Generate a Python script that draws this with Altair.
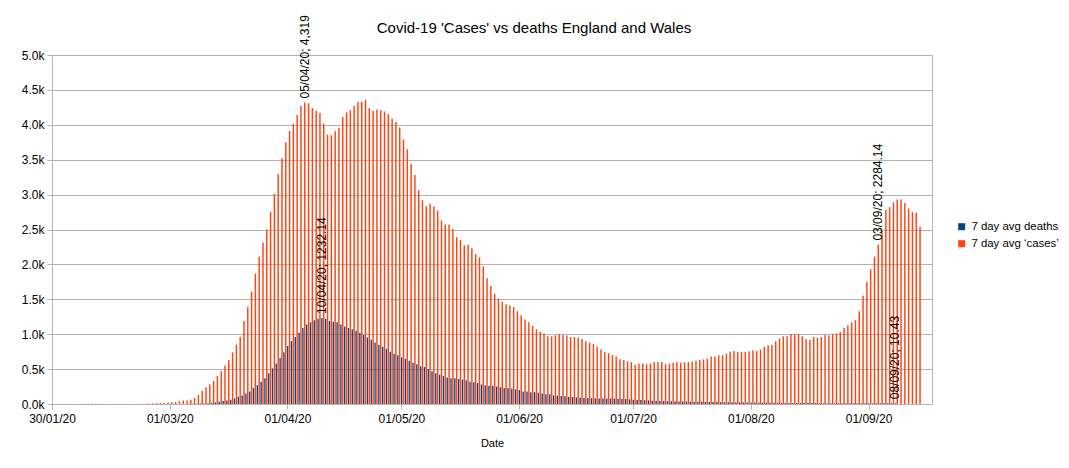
import altair as alt
import pandas as pd

# ---------------- data ----------------
start_date = "2020-01-30"

# 7 day avg 'cases', one value per day starting 30/01/20
cases = [
    0, 0, 1, 1, 1, 1, 1, 1, 1, 2, 2, 2, 1, 1, 1, 1, 1, 1, 1, 1,
    1, 1, 2, 3, 5, 7, 9, 12, 15, 15, 20, 25, 30, 40, 50, 50, 60, 90, 130, 190,
    240, 280, 330, 400, 470, 550, 630, 740, 850, 960, 1190, 1390, 1610, 1870, 2110, 2310, 2500, 2750, 3010, 3300,
    3520, 3750, 3910, 4010, 4140, 4270, 4319, 4310, 4240, 4200, 4170, 4020, 3860, 3850, 3910, 3960, 4110, 4180, 4210, 4270,
    4330, 4330, 4360, 4240, 4200, 4220, 4210, 4190, 4150, 4090, 4040, 3960, 3790, 3650, 3440, 3280, 3060, 2920, 2830, 2870,
    2830, 2770, 2630, 2570, 2570, 2510, 2390, 2350, 2270, 2280, 2230, 2150, 2100, 1970, 1800, 1690, 1580, 1510, 1460, 1430,
    1410, 1390, 1330, 1270, 1210, 1170, 1120, 1070, 1030, 1010, 970, 970, 985, 1000, 990, 980, 960, 960, 950, 930,
    900, 880, 860, 820, 780, 740, 730, 700, 680, 640, 630, 610, 600, 560, 580, 580, 570, 580, 600, 600,
    600, 570, 580, 590, 600, 590, 600, 600, 610, 620, 630, 640, 650, 680, 680, 700, 700, 720, 750, 760,
    750, 745, 745, 755, 770, 760, 780, 820, 840, 850, 900, 940, 970, 970, 1000, 1000, 1000, 970, 930, 920,
    960, 950, 960, 990, 980, 1000, 1010, 1030, 1090, 1130, 1170, 1200, 1330, 1550, 1750, 1930, 2110, 2284.14, 2480, 2780,
    2820, 2890, 2930, 2930, 2880, 2800, 2750, 2740, 2540,
]

# 7 day avg deaths, one value per day starting 30/01/20
deaths = [
    0, 0, 0, 0, 0, 0, 0, 0, 0, 0, 0, 0, 0, 0, 0, 0, 0, 0, 0, 0,
    0, 0, 0, 0, 0, 0, 0, 0, 0, 0, 0, 0, 0, 0, 0, 1, 2, 3, 4, 6,
    8, 10, 15, 24, 33, 43, 50, 60, 80, 105, 120, 150, 180, 230, 270, 320, 370, 440, 510, 580,
    660, 740, 830, 900, 960, 1020, 1090, 1140, 1170, 1200, 1220, 1232.14, 1220, 1190, 1180, 1170, 1140, 1110, 1090, 1070,
    1050, 1020, 990, 955, 920, 880, 850, 820, 790, 750, 720, 700, 670, 650, 620, 590, 570, 540, 530, 500,
    470, 440, 420, 400, 380, 370, 370, 360, 350, 340, 320, 310, 300, 280, 270, 260, 260, 250, 240, 230,
    230, 220, 210, 200, 180, 180, 170, 170, 160, 150, 140, 140, 125, 120, 115, 110, 105, 100, 96, 91,
    87, 87, 82, 80, 80, 80, 80, 80, 77, 76, 72, 71, 67, 62, 58, 57, 53, 52, 48, 47,
    43, 42, 40, 39, 38, 37, 36, 35, 34, 33, 32, 31, 30, 29, 28, 27, 26, 25, 25, 24,
    23, 22, 22, 21, 20, 20, 19, 19, 18, 18, 17, 17, 16, 16, 15, 15, 14, 14, 14, 13,
    13, 13, 12, 12, 12, 12, 11, 11, 11, 11, 11, 11, 10, 10, 10, 10, 10, 10, 10, 10,
    10, 10, 10.43,
]

series_names = ["7 day avg deaths", "7 day avg \u2018cases\u2019"]
series_colors = ["#004586", "#ff420e"]

tick_dates = ["2020-01-30", "2020-03-01", "2020-04-01", "2020-05-01",
              "2020-06-01", "2020-07-01", "2020-08-01", "2020-09-01"]
y_ticks = [0, 500, 1000, 1500, 2000, 2500, 3000, 3500, 4000, 4500, 5000]

label_texts = ["05/04/20; 4,319", "10/04/20; 1232.14", "03/09/20; 2284.14", "08/09/20; 10.43"]
label_days = [66, 71, 217, 222]
label_series = [1, 0, 1, 0]

title_text = "Covid-19 'Cases' vs deaths England and Wales"

# ---------------- build tables ----------------
DAY = 86400000
t0 = pd.Timestamp(start_date, tz="UTC").value // 10**6
end_days = 231.7
bar_off = {0: (-0.12, 0.24), 1: (0.36, 0.74)}

rows = []
for s, vals in enumerate([deaths, cases]):
    for d, v in enumerate(vals):
        a, b = bar_off[s]
        rows.append({"series": series_names[s], "value": v,
                     "x0": t0 + (d + a) * DAY, "x1": t0 + (d + b) * DAY})
bars_df = pd.DataFrame(rows)

lab_rows = []
for txt, d, s in zip(label_texts, label_days, label_series):
    a, b = bar_off[s]
    v = (cases if s == 1 else deaths)[d]
    lab_rows.append({"text": txt, "value": v, "xc": t0 + (d + (a + b) / 2) * DAY})
labels_df = pd.DataFrame(lab_rows)

title_df = pd.DataFrame({"text": [title_text]})

tick_ms = [pd.Timestamp(t, tz="UTC").value // 10**6 for t in tick_dates]

FONT = "Liberation Sans"
GRID = "#b3b3b3"

x_scale = alt.Scale(type="utc", domain=[t0, t0 + end_days * DAY])
y_scale = alt.Scale(domain=[0, 5000], nice=False)

x_axis = alt.Axis(values=tick_ms, title="Date",
                  labelExpr="utcFormat(datum.value, '%d/%m/%y')",
                  labelFlush=False, labelOverlap=False, grid=False,
                  tickSize=5, labelPadding=4, titlePadding=13,
                  titleFontSize=11, titleFontWeight="normal")
y_axis = alt.Axis(values=y_ticks, title=None, grid=True,
                  labelOverlap=False,
                  labelExpr="format(datum.value / 1000, '.1f') + 'k'",
                  tickSize=5, labelPadding=3)

bars = alt.Chart(bars_df).mark_bar().encode(
    x=alt.X("x0:T", scale=x_scale, axis=x_axis),
    x2="x1:T",
    y=alt.Y("value:Q", scale=y_scale, axis=y_axis),
    y2=alt.datum(0),
    color=alt.Color("series:N",
                    scale=alt.Scale(domain=series_names, range=series_colors),
                    legend=alt.Legend(title=None, orient="none", legendX=904, legendY=166,
                                      padding=0, symbolType="square", symbolSize=49,
                                      symbolStrokeWidth=0, labelFontSize=11.4,
                                      labelOffset=4,
                                      labelFont=FONT, labelColor="black",
                                      rowPadding=4, labelLimit=0)),
)

labels = alt.Chart(labels_df).mark_text(
    angle=270, align="left", baseline="middle", dx=4,
    fontSize=12, font=FONT, color="black",
).encode(
    x=alt.X("xc:T", scale=x_scale, axis=x_axis),
    y=alt.Y("value:Q", scale=y_scale, axis=y_axis),
    text="text:N",
)

title = alt.Chart(title_df).mark_text(
    fontSize=15, font=FONT, color="black", align="center", baseline="alphabetic",
).encode(
    x=alt.value(482),
    y=alt.value(-22),
    text="text:N",
)

chart = alt.layer(bars, labels, title).properties(
    width=880, height=349,
    autosize=alt.AutoSizeParams(type="none"),
    padding={"left": 44, "top": 47, "right": 128, "bottom": 52},
).configure_axis(
    gridColor=GRID, domainColor=GRID, tickColor=GRID,
    labelColor="black", titleColor="black",
    labelFont=FONT, titleFont=FONT, labelFontSize=12,
).configure_view(stroke=GRID)

chart.save("out.html", embed_options={"renderer": "svg", "actions": False})
